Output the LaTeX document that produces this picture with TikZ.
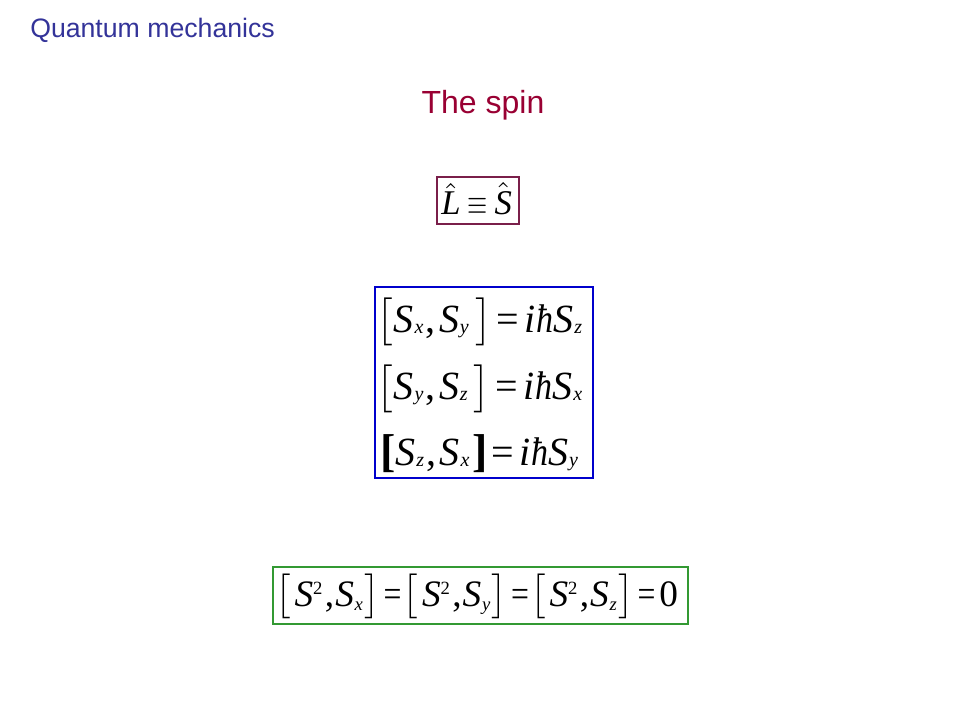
\documentclass[tikz,border=0pt]{standalone}
\usepackage{fontspec}
\usepackage{amsmath}
\usepackage{graphicx}
\newfontfamily\arialfont{Liberation Sans}
\newfontfamily\tmsfont{Liberation Serif}
\newcommand{\iS}{{\itshape S}}
\newcommand{\tsub}[2][-0.3pt]{\raisebox{#1}{\fontsize{5}{6}\selectfont\itshape #2}}
\newcommand{\tsup}{\raisebox{3.1pt}{\fontsize{5}{6}\selectfont 2}}
\newcommand{\lb}{\(\bigl[\)}
\newcommand{\rb}{\(\bigr]\)}
\newcommand{\blb}{\raisebox{-0.4pt}{\fontsize{11.5}{12}\selectfont\bfseries [}}
\newcommand{\brb}{\raisebox{-0.4pt}{\fontsize{11.5}{12}\selectfont\bfseries ]}}
\newcommand{\ihS}{{\itshape i\kern0.2pt\scalebox{0.85}[1]{ħ}S}}
\newcommand{\nareq}{\scalebox{0.85}[1]{=}}
\definecolor{titleblue}{HTML}{333399}
\definecolor{spinred}{HTML}{990033}
\definecolor{boxmaroon}{HTML}{7A1F4A}
\definecolor{boxblue}{HTML}{0000CC}
\definecolor{boxgreen}{HTML}{339933}
\tikzset{
  titletext/.style={font=\arialfont\fontsize{20}{24}\selectfont, text=titleblue, inner sep=0pt},
  spintext/.style={font=\arialfont\fontsize{24}{28}\selectfont, text=spinred, inner sep=0pt},
  framebox/.style={draw, line width=1.2pt, inner sep=0pt},
  mathline/.style={inner sep=0pt, anchor=base west, font=\tmsfont\fontsize{10}{12}\selectfont}
}
\begin{document}
\begin{tikzpicture}[x=0.75pt,y=-0.75pt]
\useasboundingbox[fill=white] (0,0) rectangle (960,720);
\node[titletext, anchor=west] (title) at (30,30) {Quantum mechanics};
\node[spintext] (spin) at (483,105) {The spin};
% box 1
\node[framebox, draw=boxmaroon, minimum width=61.5pt, minimum height=35.25pt] (b1) at (478,200.5) {};
\node[mathline] (m1) at (441,215) {\scalebox{2.6}{\(\hat{\text{\itshape L}}\)\kern2pt\scalebox{0.75}[1]{\(\equiv\)}\kern2pt\(\hat{\text{\itshape S}}\)}};
% box 2
\node[framebox, draw=boxblue, minimum width=163.5pt, minimum height=143.25pt] (b2) at (484,382.5) {};
\node[mathline] (l1) at (376,332) {\scalebox{3.0}{\lb\kern0.2pt\iS\kern0.2pt\tsub{x}\kern0.6pt,\kern0.8pt\iS\kern0.2pt\tsub{y}\kern1.6pt\rb\kern1.2pt=\kern1.4pt\ihS\kern0.2pt\tsub{z}}};
\node[mathline] (l2) at (376,399) {\scalebox{3.0}{\lb\kern0.2pt\iS\kern0.2pt\tsub{y}\kern0.6pt,\kern0.8pt\iS\kern0.2pt\tsub{z}\kern1.6pt\rb\kern1.2pt=\kern1.4pt\ihS\kern0.2pt\tsub{x}}};
\node[mathline] (l3) at (380,465) {\scalebox{3.0}{\blb\iS\kern0.2pt\tsub{z}\kern0.6pt,\kern0.8pt\iS\kern0.2pt\tsub{x}\kern0.8pt\brb\kern0.8pt=\kern1.4pt\ihS\kern0.2pt\tsub{y}}};
% box 3
\node[framebox, draw=boxgreen, minimum width=311.25pt, minimum height=42.75pt] (b3) at (480.5,595.5) {};
\node[mathline] (m3) at (275,606) {\scalebox{2.8}{\lb\kern1pt\iS\tsup\kern0.6pt,\kern0.3pt\iS\kern0.2pt\tsub[-1.1pt]{x}\kern0.4pt\rb\kern1pt\nareq\kern0.3pt\lb\kern1pt\iS\tsup\kern0.6pt,\kern0.3pt\iS\kern0.2pt\tsub[-1.1pt]{y}\kern0.4pt\rb\kern1pt\nareq\kern0.3pt\lb\kern1pt\iS\tsup\kern0.6pt,\kern0.3pt\iS\kern0.2pt\tsub[-1.1pt]{z}\kern0.4pt\rb\kern1pt\nareq\kern1pt0}};
\end{tikzpicture}
\end{document}
